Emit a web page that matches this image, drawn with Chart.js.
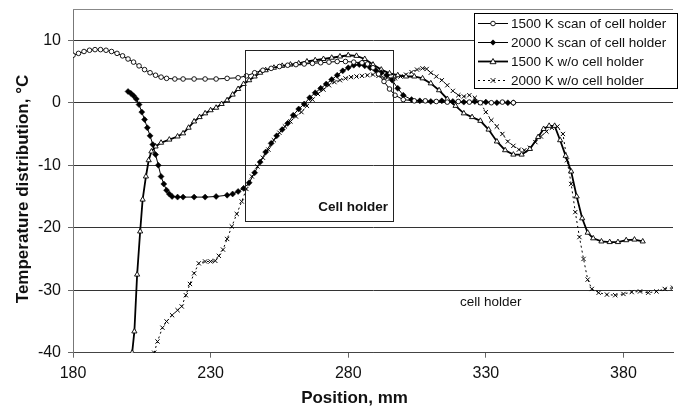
<!DOCTYPE html>
<html>
<head>
<meta charset="utf-8">
<script src="https://cdn.jsdelivr.net/npm/chart.js@4.4.1/dist/chart.umd.min.js"></script>
<style>
  html, body { margin: 0; padding: 0; background: #fff; }
  canvas { display: block; }
</style>
</head>
<body>
<canvas id="myChart" width="678" height="409"></canvas>
<script>
// positions (mm) and temperatures (°C)
var posScan1500 = [180,182,184,186,188,190,192,194,196,198,200,202,204,206,208,210,212,214,217,220,224,228,232,236,240,243,246,249,252,255,258,261,264,267,270,273,276,279,282,285,287,289,291,293,295,297,300,304,308,312,316,320,324,328,332,336,340];
var tempScan1500 = [7.6,7.9,8.2,8.4,8.5,8.5,8.4,8.2,7.9,7.5,7.0,6.5,5.9,5.3,4.8,4.4,4.1,3.9,3.8,3.8,3.8,3.8,3.8,3.9,4.0,4.3,4.8,5.2,5.5,5.8,6.0,6.1,6.2,6.3,6.4,6.5,6.6,6.6,6.5,6.4,6.2,5.6,4.6,3.4,2.2,1.2,0.5,0.3,0.3,0.2,0.1,0.2,0.1,0.0,0.0,0.1,0.0];

var posScan2000 = [200,201,202,203,204,205,206,207,208,209,210,211,212,213,214,215,216,218,220,224,228,232,236,238,240,242,244,246,248,250,252,254,256,258,260,262,264,266,268,270,272,274,276,278,280,282,284,286,288,290,292,294,296,298,300,303,306,310,314,318,322,326,330,334,338,340];
var tempScan2000 = [1.8,1.5,1.1,0.6,-0.3,-1.5,-2.7,-4.0,-5.3,-6.7,-8.3,-10.0,-11.8,-13.0,-14.0,-14.6,-15.0,-15.1,-15.1,-15.1,-15.1,-15.0,-14.8,-14.6,-14.2,-13.7,-12.8,-11.2,-9.5,-7.9,-6.5,-5.3,-4.3,-3.3,-2.0,-1.0,-0.2,0.8,1.6,2.3,3.0,3.7,4.4,5.1,5.6,6.0,6.1,5.9,5.6,5.2,4.8,4.4,3.6,2.3,1.2,0.5,0.3,0.2,0.3,0.2,0.1,0.2,0.1,0.0,0.0,0.0];

var posFree1500 = [201.5,202.3,203.3,204.4,205.3,206.5,207.5,208.5,210,212,215,218,220,222,224,226,228,230,232,234,236,238,240,242,244,246,248,250,253,256,259,262,265,268,271,274,277,280,283,286,289,292,295,298,301,304,307,310,313,316,319,322,325,328,331,334,337,340,343,346,349,351,353,355,357,359,361,363,365,367,369,372,375,378,381,384,387];
var tempFree1500 = [-40,-36.6,-27.5,-20.6,-15.5,-11.8,-9.2,-7.8,-7.0,-6.4,-5.9,-5.4,-4.9,-4.0,-3.0,-2.3,-1.7,-1.2,-0.8,-0.2,0.4,1.3,2.2,3.0,3.6,4.2,4.8,5.2,5.6,5.9,6.1,6.3,6.6,6.8,7.0,7.2,7.4,7.6,7.5,7.0,6.1,5.3,4.7,4.4,4.2,4.2,3.9,3.1,2.0,0.6,-0.5,-1.7,-2.3,-2.9,-4.3,-6.2,-7.6,-8.3,-8.3,-7.4,-5.5,-4.2,-3.7,-3.7,-6.0,-8.5,-11.0,-15.0,-18.5,-20.8,-21.7,-22.2,-22.3,-22.3,-22.0,-21.9,-22.2];

var posFree2000 = [209.5,210.7,212.5,214,216,218,219.5,221,222.5,224,225.7,228,230,231.7,233,234.5,236,237.7,239.5,241.3,243,245,247,249,251,253,255,257,259,261,263,265,267,269,271,273,275,277,279,281,283,285,287,289,291,293,295,297,299,301,303,305,307,308.5,310,312,314,316,318,320,322,324,326,328,330,332,334,336,338,340,342,344,346,348,350,352,354,356,358,359.5,361,362.5,364,365.5,367,368.5,371,374,377,380,383,386,389,392,395,398];
var tempFree2000 = [-40,-38.2,-36,-35,-34,-33.2,-32.6,-30.8,-29,-27.3,-25.7,-25.4,-25.4,-25.3,-24.5,-23.5,-21.8,-19.8,-17.8,-15.8,-13.8,-11.8,-10.2,-8.8,-7.5,-6.0,-4.8,-3.8,-3.0,-2.2,-1.5,-0.5,0.5,1.4,2.1,2.8,3.3,3.6,3.9,4.1,4.2,4.3,4.4,4.5,4.3,4.0,3.8,3.9,4.2,4.5,4.9,5.3,5.5,5.4,4.8,4.2,3.6,2.8,1.9,1.2,1.0,1.2,0.8,0.0,-1.5,-2.8,-3.8,-5.0,-6.2,-6.9,-7.5,-7.6,-7.2,-6.3,-5.4,-4.6,-4.0,-3.8,-5.0,-9.2,-13,-17.5,-21.5,-25,-28.3,-29.8,-30.4,-30.7,-30.8,-30.6,-30.3,-30.2,-30.4,-30.2,-29.8,-29.6];

var seriesLabels = ['1500 K scan of cell holder', '2000 K scan of cell holder', '1500 K w/o cell holder', '2000 K w/o cell holder'];
var xTicks = [180, 230, 280, 330, 380];
var yTicks = [-40, -30, -20, -10, 0, 10];

// cell holder box (mm, °C) and the two notes
var boxX = [242.5, 296.2];
var boxY = [-18.9, 8.5];
var noteBold = { text: 'Cell holder', x: 281.8, y: -16.8 };
var notePlain = { text: 'cell holder', x: 331.8, y: -31.9 };

var FONT = '"Liberation Sans", Arial, sans-serif';

function pts(xs, ys) {
    return xs.map(function (x, i) { return { x: x, y: ys[i] }; });
}

function marker(ctx, kind, x, y) {
    ctx.save();
    ctx.strokeStyle = '#000';
    ctx.lineWidth = 0.9;
    ctx.setLineDash([]);
    ctx.beginPath();
    if (kind === 'circle') {
        ctx.arc(x, y, 2.3, 0, Math.PI * 2);
        ctx.fillStyle = '#fff'; ctx.fill(); ctx.stroke();
    } else if (kind === 'rectRot') {
        ctx.moveTo(x, y - 3); ctx.lineTo(x + 3, y); ctx.lineTo(x, y + 3); ctx.lineTo(x - 3, y); ctx.closePath();
        ctx.fillStyle = '#000'; ctx.fill();
    } else if (kind === 'triangle') {
        ctx.moveTo(x, y - 3); ctx.lineTo(x + 3, y + 2.2); ctx.lineTo(x - 3, y + 2.2); ctx.closePath();
        ctx.fillStyle = '#fff'; ctx.fill(); ctx.stroke();
    } else {
        ctx.moveTo(x - 2.5, y - 2.5); ctx.lineTo(x + 2.5, y + 2.5);
        ctx.moveTo(x + 2.5, y - 2.5); ctx.lineTo(x - 2.5, y + 2.5);
        ctx.stroke();
    }
    ctx.restore();
}

var extras = {
    id: 'extras',
    afterDraw: function (chart) {
        var ctx = chart.ctx, xs = chart.scales.x, ys = chart.scales.y, area = chart.chartArea;
        ctx.save();
        // top frame line
        ctx.strokeStyle = '#888'; ctx.lineWidth = 1;
        ctx.beginPath();
        ctx.moveTo(area.left, Math.round(ys.getPixelForValue(15)) + 0.5);
        ctx.lineTo(area.right, Math.round(ys.getPixelForValue(15)) + 0.5);
        ctx.stroke();

        // cell holder box
        var bx1 = Math.round(xs.getPixelForValue(boxX[0])) + 0.5, bx2 = Math.round(xs.getPixelForValue(boxX[1])) + 0.5;
        var by1 = Math.round(ys.getPixelForValue(boxY[1])) + 0.5, by2 = Math.round(ys.getPixelForValue(boxY[0])) + 0.5;
        ctx.strokeStyle = '#222';
        ctx.strokeRect(bx1, by1, bx2 - bx1, by2 - by1);

        ctx.fillStyle = '#111';
        ctx.textAlign = 'center'; ctx.textBaseline = 'middle';
        ctx.font = 'bold 13.5px ' + FONT;
        ctx.fillText(noteBold.text, xs.getPixelForValue(noteBold.x), ys.getPixelForValue(noteBold.y));
        ctx.font = '13.5px ' + FONT;
        ctx.fillText(notePlain.text, xs.getPixelForValue(notePlain.x), ys.getPixelForValue(notePlain.y));

        // axis titles
        ctx.font = 'bold 17px ' + FONT;
        ctx.fillText('Position, mm', 354.5, 398);
        ctx.save();
        ctx.translate(23, 189);
        ctx.rotate(-Math.PI / 2);
        ctx.fillText('Temperature distribution, °C', 0, 0);
        ctx.restore();

        // legend box
        var lx = 474.5, ly = 13.5, lw = 203, lh = 75;
        ctx.fillStyle = '#fff';
        ctx.fillRect(lx, ly, lw, lh);
        ctx.strokeStyle = '#000';
        ctx.strokeRect(lx, ly, lw, lh);
        ctx.font = '13.5px ' + FONT;
        ctx.textAlign = 'left';
        chart.data.datasets.forEach(function (ds, i) {
            var cy = 23.5 + i * 19;
            ctx.save();
            ctx.strokeStyle = '#000';
            ctx.lineWidth = ds.borderWidth;
            ctx.setLineDash(ds.borderDash || []);
            ctx.beginPath();
            ctx.moveTo(478, cy); ctx.lineTo(508, cy);
            ctx.stroke();
            ctx.restore();
            marker(ctx, ds.pointStyle, 493, cy);
            ctx.fillStyle = '#111';
            ctx.fillText(ds.label, 511, cy + 1);
        });
        ctx.restore();
    }
};

var ctx = document.querySelector('#myChart').getContext('2d');
var myChart = new Chart(ctx, {
    type: 'line',
    data: {
        datasets: [{
            label: seriesLabels[0],
            data: pts(posScan1500, tempScan1500),
            borderColor: '#000', borderWidth: 1,
            pointStyle: 'circle', pointRadius: 2.3,
            pointBackgroundColor: '#fff', pointBorderColor: '#000', pointBorderWidth: 0.9
        }, {
            label: seriesLabels[1],
            data: pts(posScan2000, tempScan2000),
            borderColor: '#000', borderWidth: 1,
            pointStyle: 'rectRot', pointRadius: 3,
            pointBackgroundColor: '#000', pointBorderColor: '#000', pointBorderWidth: 0.5
        }, {
            label: seriesLabels[2],
            data: pts(posFree1500, tempFree1500),
            borderColor: '#000', borderWidth: 1.8,
            pointStyle: 'triangle', pointRadius: 3,
            pointBackgroundColor: '#fff', pointBorderColor: '#000', pointBorderWidth: 0.9
        }, {
            label: seriesLabels[3],
            data: pts(posFree2000, tempFree2000),
            borderColor: '#000', borderWidth: 1, borderDash: [2, 3],
            pointStyle: 'crossRot', pointRadius: 3,
            pointBorderColor: '#000', pointBorderWidth: 1
        }]
    },
    options: {
        responsive: false,
        animation: false,
        layout: { padding: { left: 0, right: 0, top: 9, bottom: 0 } },
        plugins: { legend: { display: false }, tooltip: { enabled: false } },
        elements: { line: { tension: 0 } },
        scales: {
            x: {
                type: 'linear', min: 180, max: 398,
                afterBuildTicks: function (s) { s.ticks = xTicks.map(function (v) { return { value: v }; }); },
                afterFit: function (s) { s.height = 56.3; s.paddingLeft = 0; s.paddingRight = 0; },
                grid: { drawOnChartArea: false, tickLength: 5, tickColor: '#666' },
                border: { color: '#444', width: 1 },
                ticks: { color: '#111', padding: 6, maxRotation: 0, font: { family: FONT, size: 16 } }
            },
            y: {
                min: -40, max: 15,
                afterBuildTicks: function (s) { s.ticks = yTicks.map(function (v) { return { value: v }; }); },
                afterFit: function (s) { s.width = 73; s.paddingTop = 0; s.paddingBottom = 0; },
                grid: { color: '#333', lineWidth: 1, tickLength: 5, tickColor: '#666' },
                border: { color: '#777', width: 1 },
                ticks: { color: '#111', padding: 7, font: { family: FONT, size: 16 } }
            }
        }
    },
    plugins: [extras]
});
</script>
</body>
</html>
